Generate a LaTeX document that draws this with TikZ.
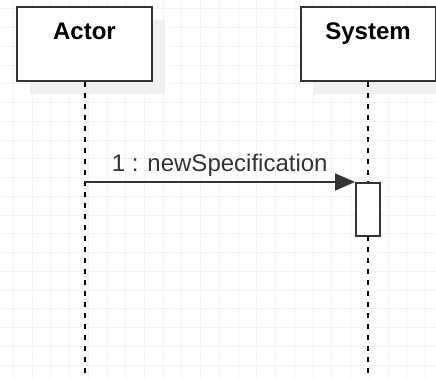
\documentclass[tikz,border=0pt]{standalone}
\usepackage{fontspec}
\setmainfont{Liberation Sans}
\usetikzlibrary{arrows.meta,shadows}
\definecolor{gridcol}{HTML}{F2F2F2}
\definecolor{edgecol}{HTML}{333333}
\begin{document}
\begin{tikzpicture}[x=1pt, y=-1pt,
    box/.style = {draw=edgecol, line width=2pt, fill=white, minimum width=135pt, minimum height=74pt,
        inner sep=0pt, text height=32pt, text depth=42pt, font=\fontsize{24}{28}\selectfont\bfseries,
        drop shadow={fill=black!6, opacity=1, shadow xshift=13pt, shadow yshift=-13pt}},
    lifeline/.style = {line width=2pt, dash pattern=on 5pt off 6pt},
    act/.style = {draw=edgecol, line width=2pt, fill=white, minimum width=24pt, minimum height=53pt, inner sep=0pt},
    msg/.style = {line width=2pt, draw=edgecol, -{Triangle[length=20pt, width=17pt]}}]

    \useasboundingbox (0,0) rectangle (436,378);
    % background grid
    \foreach \i in {0,...,22} \draw[gridcol, line width=1pt] (13.3+18.74*\i,0) -- (13.3+18.74*\i,378);
    \foreach \j in {0,...,19} \draw[gridcol, line width=1pt] (0,8.96+18.74*\j) -- (436,8.96+18.74*\j);

    \node[box] (actor) at (84.5,44) {Actor};
    \node[box] (system) at (368,44) {System};
    \coordinate (actorEnd) at (84.5,378);
    \coordinate (systemEnd) at (368,378);

    \draw[lifeline] (actor) -- (actorEnd);
    \draw[lifeline] (system) -- (systemEnd);

    \node[act, anchor=north] (exec) at (368,182) {};
    \coordinate (m1) at (84.5,182);

    \draw[msg] (m1) -- node[midway, above, inner sep=5pt, text=edgecol, font=\fontsize{24}{28}\selectfont] {1 : newSpecification} (exec.north west);

\end{tikzpicture}
\end{document}
